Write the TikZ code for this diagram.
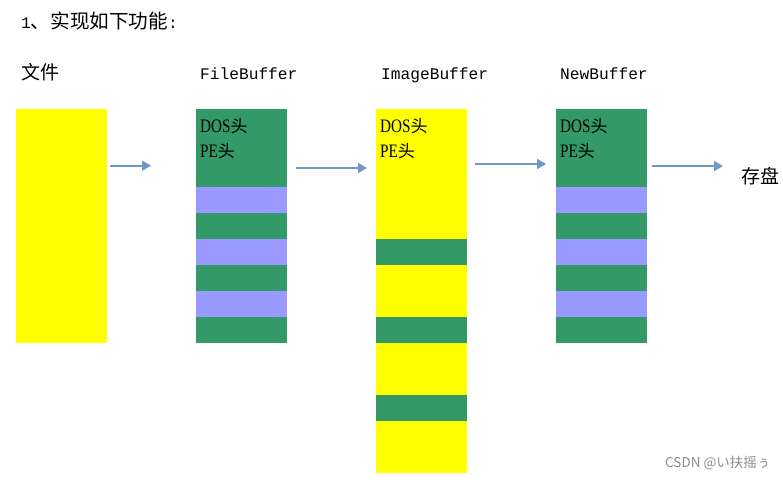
\documentclass[tikz,border=0pt]{standalone}
\usepackage{fontspec}
\usetikzlibrary{arrows.meta}
\newfontfamily\cjk{Noto Sans CJK SC}
\newfontfamily\monof{Liberation Mono}
\newfontfamily\dosf[FakeStretch=0.8]{Liberation Serif}
\definecolor{byellow}{RGB}{255,255,0}
\definecolor{bgreen}{RGB}{51,153,102}
\definecolor{bpurple}{RGB}{153,153,255}
\definecolor{arrowblue}{RGB}{112,152,196}
\definecolor{wmgray}{RGB}{140,140,140}
\begin{document}
\begin{tikzpicture}[x=1pt,y=-1pt,
  column/.style={draw=none,inner sep=0pt,outer sep=0pt,anchor=north west,minimum width=91pt},
  lbl/.style={inner sep=0pt,anchor=base west},
  arr/.style={draw=arrowblue,line width=1.6pt,-{Triangle[length=9pt,width=10pt]}},
  cjklbl/.style={lbl,font=\cjk\fontsize{19}{19}\selectfont},
  monolbl/.style={lbl,font=\monof\fontsize{16.2}{16}\selectfont},
  hdr/.style={lbl,font=\fontsize{19}{19}\selectfont}]
\useasboundingbox (0,0) rectangle (783,479);
\fill[white] (0,0) rectangle (783,479);

% title and labels
\node[lbl] (title) at (21,28) {\monof\fontsize{16.2}{16}\selectfont 1\cjk\fontsize{19.6}{19}\selectfont 、实现如下功能\monof\fontsize{16.2}{16}\selectfont :};
\node[cjklbl] (lfile) at (21,79) {文件};
\node[monolbl] (lfb) at (200,79) {FileBuffer};
\node[monolbl] (lib) at (381,79) {ImageBuffer};
\node[monolbl] (lnb) at (560,79) {NewBuffer};

% columns
\node[column,fill=byellow,minimum height=234pt] (file) at (16,109) {};
\node[column,fill=bgreen,minimum height=234pt] (fb) at (196,109) {};
\node[column,fill=byellow,minimum height=364pt] (ib) at (376,109) {};
\node[column,fill=bgreen,minimum height=234pt] (nb) at (556,109) {};

% stripes
\foreach \y in {187,239,291}{
  \fill[bpurple] (196,\y) rectangle (287,\y+26);
  \fill[bpurple] (556,\y) rectangle (647,\y+26);
}
\foreach \y in {239,317,395}{
  \fill[bgreen] (376,\y) rectangle (467,\y+26);
}

% header texts
\foreach \x/\n in {200/fb,380/ib,560/nb}{
  \node[hdr] (dos\n) at (\x,132) {\dosf DOS\cjk\fontsize{17}{17}\selectfont 头};
  \node[hdr] (pe\n) at (\x,157) {\dosf PE\cjk\fontsize{17}{17}\selectfont 头};
}

\node[cjklbl] (disk) at (741,183) {存盘};

% arrows
\coordinate (a1s) at (110,165.7); \coordinate (a1e) at (151,165.7);
\coordinate (a2s) at (296,168); \coordinate (a2e) at (367,168);
\coordinate (a3s) at (475,164); \coordinate (a3e) at (546,164);
\coordinate (a4s) at (652,166); \coordinate (a4e) at (723,166);
\draw[arr] (a1s) -- (a1e);
\draw[arr] (a2s) -- (a2e);
\draw[arr] (a3s) -- (a3e);
\draw[arr] (a4s) -- (a4e);

% watermark
\node[lbl,text=wmgray,font=\cjk\fontsize{13.5}{13.5}\selectfont] (wm) at (665,467) {CSDN @い扶摇ぅ};
\end{tikzpicture}
\end{document}
